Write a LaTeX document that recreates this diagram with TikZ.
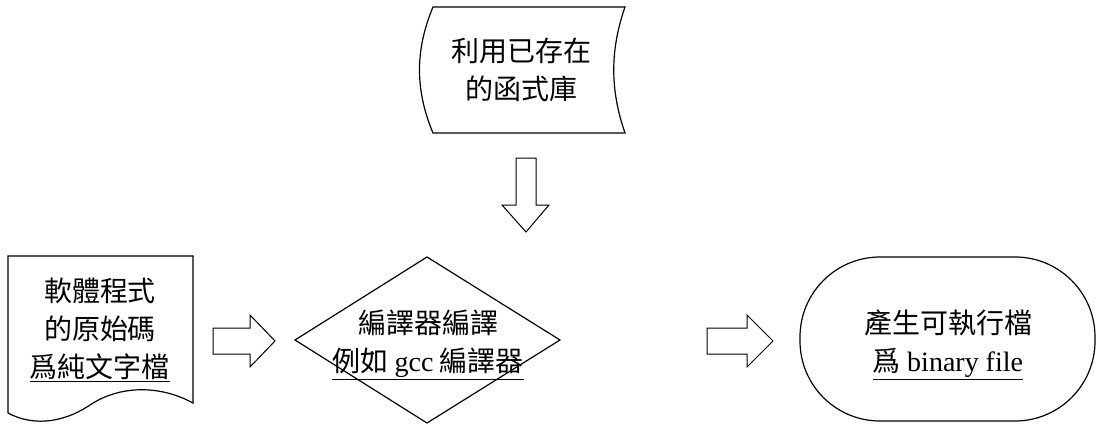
\documentclass[tikz,border=0pt]{standalone}
\usepackage{fontspec}
\setmainfont{Liberation Serif}
\newfontfamily\cjk{Noto Sans CJK TC}
\begin{document}
\begin{tikzpicture}[x=1pt,y=-1pt,
  lbl/.style={align=center,font=\fontsize{28}{38}\selectfont\cjk},
  shp/.style={draw,line width=1.2pt},
  bigarrow/.style={draw,line width=1pt}]
\useasboundingbox (0,0) rectangle (1112,434);
% top library shape
\draw[shp] (433,7) -- (625,7) .. controls (610,50) and (610,90) .. (625,133) -- (433,133) .. controls (415,90) and (415,50) .. cycle;
\node[lbl] (lib) at (521,70) {利用已存在\\的函式庫};
% down arrow
\draw[bigarrow] (516,158) -- (536,158) -- (536,205) -- (549,205) -- (526,232) -- (502,205) -- (516,205) -- cycle;
\coordinate (da) at (526,195);
% document
\draw[shp] (8,256) -- (193,256) -- (193,403) .. controls (160,385) and (120,385) .. (90,405) .. controls (60,425) and (30,425) .. (8,413) -- cycle;
\node[lbl] (src) at (100,330) {軟體程式\\的原始碼\\\underline{爲純文字檔}};
% arrow 1
\draw[bigarrow] (213,328) -- (250,328) -- (250,315) -- (275,341) -- (250,367) -- (250,354) -- (213,354) -- cycle;
\coordinate (a1) at (240,341);
% diamond
\draw[shp] (295,340) -- (427,257) -- (560,340) -- (427,423) -- cycle;
\node[lbl] (comp) at (428,345) {編譯器編譯\\\underline{例如 {\rmfamily gcc} 編譯器}};
% arrow 2
\draw[bigarrow] (707,328) -- (747,328) -- (747,315) -- (773,341) -- (747,367) -- (747,354) -- (707,354) -- cycle;
\coordinate (a2) at (740,341);
% terminal
\draw[shp,rounded corners=80pt] (800,257) rectangle (1095,421);
\node[lbl] (out) at (948,345) {產生可執行檔\\\underline{爲 {\rmfamily binary file}}};
\end{tikzpicture}
\end{document}
